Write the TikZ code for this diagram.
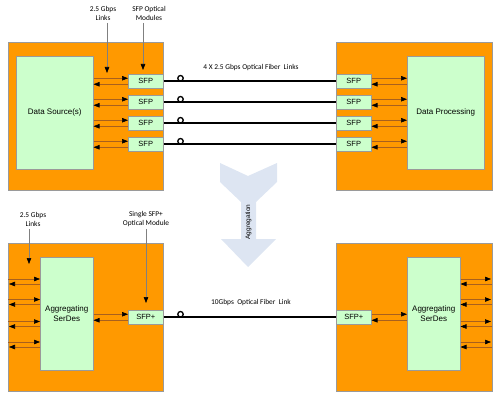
\documentclass[tikz,border=0pt]{standalone}
\usepackage{fontspec}
\setmainfont{Liberation Sans}
\newfontfamily\labfont{Carlito}
\usetikzlibrary{arrows.meta,calc}
\definecolor{orng}{HTML}{FF9900}
\definecolor{grn}{HTML}{CCFFCC}
\definecolor{aggc}{HTML}{DDE5F2}
\definecolor{sigc}{HTML}{A8601E}
\definecolor{bordc}{HTML}{9A9A9A}
\tikzset{
  obox/.style={draw=bordc, fill=orng, line width=0.6pt, anchor=north west, inner sep=0pt},
  gbox/.style={draw=bordc, fill=grn, line width=0.5pt, anchor=north west, inner sep=0pt, align=center, font=\fontsize{8}{9.5}\selectfont},
  sfpbox/.style={draw=bordc, fill=grn, line width=0.5pt, anchor=north west, inner sep=0pt, minimum width=35pt, minimum height=14pt, font=\fontsize{7.5}{9}\selectfont},
  sig/.style={draw=sigc, line width=0.6pt, -{Triangle[length=6pt,width=4.5pt,color=black,fill=black]}},
  pointer/.style={draw=gray, line width=0.6pt, -{Triangle[length=6pt,width=4.5pt,color=black,fill=black]}},
  lab/.style={font=\labfont\fontsize{7.4}{9}\selectfont, align=center, inner sep=0pt},
  fiber/.style={draw=black, line width=2pt},
  ring/.style={circle, draw=black, fill=white, line width=1.3pt, minimum size=5.5pt, inner sep=0pt},
}
\begin{document}
\begin{tikzpicture}[x=1pt,y=-1pt]
\useasboundingbox (0,0) rectangle (500,403);
% top boxes
\node[obox, minimum width=155pt, minimum height=148pt] (tl) at (8,42) {};
\node[obox, minimum width=156pt, minimum height=148pt] (tr) at (336,42) {};
\node[gbox, minimum width=77pt, minimum height=113pt] (ds) at (16,56) {Data Source(s)};
\node[gbox, minimum width=77pt, minimum height=113pt] (dp) at (407,56) {Data Processing};
\foreach \i/\yy in {1/74,2/95,3/116,4/137}{
  \node[sfpbox] (L\i) at (128,\yy) {SFP};
  \node[sfpbox] (R\i) at (336,\yy) {SFP};
  \draw[sig] ($(ds.east|-L\i.west)+(0,-3)$) -- ($(L\i.west)+(0,-3)$);
  \draw[sig] ($(L\i.west)+(0,3)$) -- ($(ds.east|-L\i.west)+(0,3)$);
  \draw[sig] ($(R\i.east)+(0,-3)$) -- ($(dp.west|-R\i.east)+(0,-3)$);
  \draw[sig] ($(dp.west|-R\i.east)+(0,3)$) -- ($(R\i.east)+(0,3)$);
  \draw[fiber] (L\i.east) -- (R\i.west);
  \node[ring] (c\i) at ($(L\i.east)+(17,-3)$) {};
}
\node[lab] (la1) at (103,13.5) {2.5 Gbps\\Links};
\node[lab] (la2) at (149,13.5) {SFP Optical\\Modules};
\coordinate (t1) at (107,73);
\coordinate (t2) at (143,70);
\draw[pointer] (la1.south -| t1) ++(0,2) -- (t1);
\draw[pointer] (la2.south -| t2) ++(0,2) -- (t2);
\node[lab] (fl) at (251,68) {4 X 2.5 Gbps Optical Fiber\ \ Links};
% aggregation arrow
\fill[aggc] (220,163) -- (248,176) -- (277,163) -- (277,182) -- (256,202) -- (256,239)
  -- (276,239) -- (248,267) -- (221,239) -- (241,239) -- (241,202) -- (220,182) -- cycle;
\node[rotate=90, font=\fontsize{6.5}{7}\selectfont, inner sep=0pt] (agg) at (248.5,222) {Aggregation};
% bottom boxes
\node[obox, minimum width=155pt, minimum height=148pt] (bl) at (8,243) {};
\node[obox, minimum width=156pt, minimum height=148pt] (br) at (336,243) {};
\node[gbox, minimum width=53pt, minimum height=113pt] (sdl) at (40,257) {Aggregating\\SerDes};
\node[gbox, minimum width=53pt, minimum height=113pt] (sdr) at (407,257) {Aggregating\\SerDes};
\node[sfpbox] (sl) at (128,310) {SFP+};
\node[sfpbox] (sr) at (336,310) {SFP+};
\draw[sig] ($(sdl.east|-sl.west)+(0,-3)$) -- ($(sl.west)+(0,-3)$);
\draw[sig] ($(sl.west)+(0,3)$) -- ($(sdl.east|-sl.west)+(0,3)$);
\draw[sig] ($(sr.east)+(0,-3)$) -- ($(sdr.west|-sr.east)+(0,-3)$);
\draw[sig] ($(sdr.west|-sr.east)+(0,3)$) -- ($(sr.east)+(0,3)$);
\draw[fiber] (sl.east) -- (sr.west);
\node[ring] (c5) at ($(sl.east)+(17,-3)$) {};
\foreach \i/\yy in {1/281.5,2/302,3/324,4/344.5}{
  \coordinate (ai\i) at (8,\yy-2.5);
  \coordinate (ao\i) at (9,\yy+2.5);
  \coordinate (bi\i) at (491,\yy-2.5);
  \coordinate (bo\i) at (492,\yy+2.5);
  \draw[sig] (ai\i) -- (sdl.west|-ai\i);
  \draw[sig] (sdl.west|-ao\i) -- (ao\i);
  \draw[sig] (sdr.east|-bi\i) -- (bi\i);
  \draw[sig] (bo\i) -- (sdr.east|-bo\i);
}
\node[lab] (lb1) at (33,219.5) {2.5 Gbps\\Links};
\node[lab] (lb2) at (146,219.5) {Single SFP+\\Optical Module};
\coordinate (t3) at (29,264);
\coordinate (t4) at (146,303);
\draw[pointer] (lb1.south -| t3) ++(0,2) -- (t3);
\draw[pointer] (lb2.south -| t4) ++(0,2) -- (t4);
\node[lab] (fl2) at (251,303) {10Gbps\ \ Optical Fiber\ \ Link};
\end{tikzpicture}
\end{document}
